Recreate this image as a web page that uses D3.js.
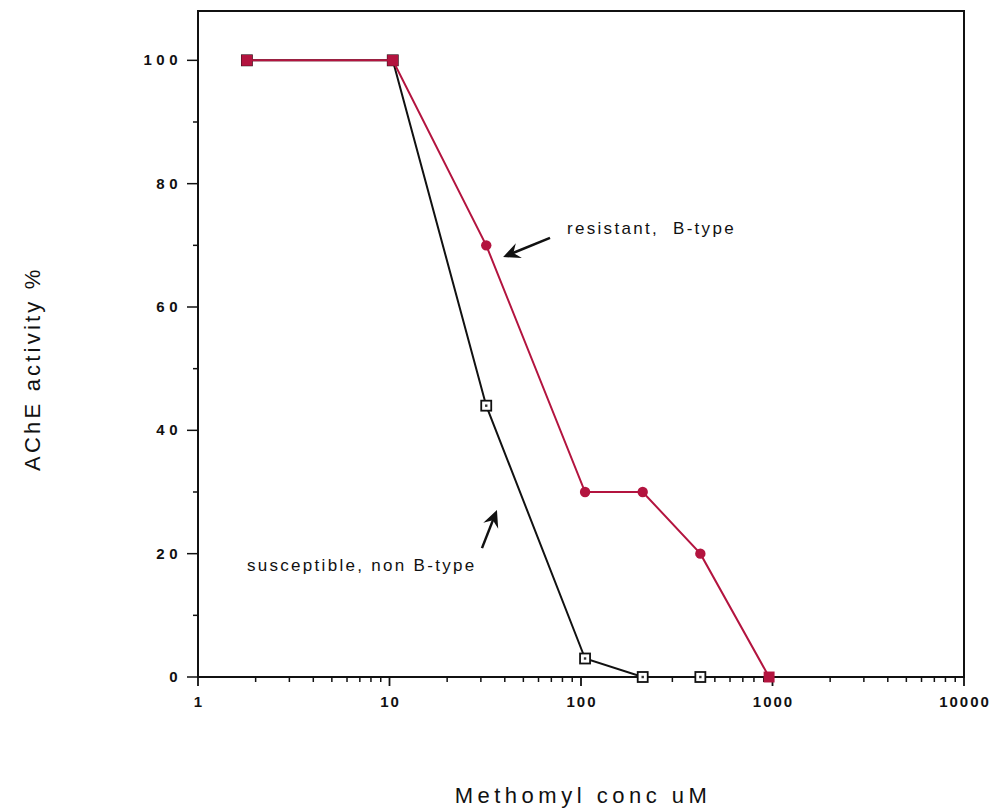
<!DOCTYPE html>
<html>
<head>
<meta charset="utf-8">
<script src="https://cdn.jsdelivr.net/npm/d3@7"></script>
<style>
  body { margin: 0; background: #fff; }
  svg text { font-family: "Liberation Sans", Arial, Helvetica, sans-serif; fill: #111; }
</style>
</head>
<body>
<div class="chart"></div>
<script>
// データ
const concs = [1.8, 10.4, 32, 105, 210, 420, 960];          // Methomyl conc uM
const resistant = [100, 100, 70, 30, 30, 20, 0];            // resistant, B-type
const susceptible = [100, 100, 44, 3, 0, 0, null];          // susceptible, non B-type
const xTicks = [1, 10, 100, 1000, 10000];
const yTicks = [0, 20, 40, 60, 80, 100];
const yMinorTicks = [10, 30, 50, 70, 90];
const labels = [
  { text: "resistant,  B-type", at: [84.5, 71.8], tail: [68.9, 71.2], tip: [39.2, 68.1] },
  { text: "susceptible, non B-type", at: [1.8, 17.2], tail: [30.4, 20.9], tip: [36.4, 27.1] }
];

// サイズ
const W = 994, H = 810;
const margin = { top: 11, right: 30, bottom: 133, left: 198 };
const red = "#b3143f";

const svg = d3.select(".chart").append("svg")
  .attr("width", W).attr("height", H);

const x = d3.scaleLog().domain([1, 10000]).range([margin.left, W - margin.right]);
const y = d3.scaleLinear().domain([0, 108]).range([H - margin.bottom, margin.top]);

// 枠
svg.append("rect")
  .attr("x", x(1)).attr("y", y(108))
  .attr("width", x(10000) - x(1)).attr("height", y(0) - y(108))
  .attr("fill", "none").attr("stroke", "#111").attr("stroke-width", 2);

// x軸 (対数、細かい目盛り)
const minor = [];
for (let d = 1; d < 10000; d *= 10) for (let k = 2; k <= 9; k++) minor.push(d * k);
svg.selectAll(".xminor").data(minor).enter().append("line")
  .attr("x1", d => x(d)).attr("x2", d => x(d))
  .attr("y1", y(0)).attr("y2", y(0) + 5)
  .attr("stroke", "#111").attr("stroke-width", 1.5);
svg.selectAll(".xmajor").data(xTicks).enter().append("line")
  .attr("x1", d => x(d)).attr("x2", d => x(d))
  .attr("y1", y(0)).attr("y2", y(0) + 9)
  .attr("stroke", "#111").attr("stroke-width", 1.8);
svg.selectAll(".xlab").data(xTicks).enter().append("text")
  .attr("x", d => x(d) + 1).attr("y", y(0) + 30)
  .attr("text-anchor", "middle")
  .style("font-size", "15px").style("font-weight", "bold").style("letter-spacing", "2px")
  .text(d => d);

// y軸
svg.selectAll(".ymajor").data(yTicks).enter().append("line")
  .attr("x1", x(1) - 11).attr("x2", x(1))
  .attr("y1", d => y(d)).attr("y2", d => y(d))
  .attr("stroke", "#111").attr("stroke-width", 1.5);
svg.selectAll(".yminor").data(yMinorTicks).enter().append("line")
  .attr("x1", x(1) - 5).attr("x2", x(1))
  .attr("y1", d => y(d)).attr("y2", d => y(d))
  .attr("stroke", "#111").attr("stroke-width", 1.5);
svg.selectAll(".ylab").data(yTicks).enter().append("text")
  .attr("x", x(1) - 16).attr("y", d => y(d) + 5)
  .attr("text-anchor", "end")
  .style("font-size", "15px").style("font-weight", "bold").style("letter-spacing", "4.5px")
  .text(d => d);

// 軸タイトル
svg.append("text")
  .attr("transform", `translate(40,${(y(0) + y(100)) / 2 - 0}) rotate(-90)`)
  .attr("text-anchor", "middle")
  .style("font-size", "22px").style("letter-spacing", "3.2px")
  .text("AChE activity %");
svg.append("text")
  .attr("x", (x(1) + x(10000)) / 2 + 2).attr("y", 803)
  .attr("text-anchor", "middle")
  .style("font-size", "22px").style("letter-spacing", "4.5px")
  .text("Methomyl conc uM");

// 線
const line = d3.line()
  .defined(d => d[1] != null)
  .x(d => x(d[0])).y(d => y(d[1]));
const sData = concs.map((c, i) => [c, susceptible[i]]).filter(d => d[1] != null);
const rData = concs.map((c, i) => [c, resistant[i]]);

svg.append("path").datum(sData).attr("d", line)
  .attr("fill", "none").attr("stroke", "#111").attr("stroke-width", 2);

// susceptible: 白抜きの四角
const sq = 10;
svg.selectAll(".smark").data(sData).enter().append("rect")
  .attr("x", d => x(d[0]) - sq / 2).attr("y", d => y(d[1]) - sq / 2)
  .attr("width", sq).attr("height", sq)
  .attr("fill", "#fff").attr("stroke", "#111").attr("stroke-width", 1.8);
svg.selectAll(".sdot").data(sData).enter().append("rect")
  .attr("x", d => x(d[0]) - 1.2).attr("y", d => y(d[1]) - 1.2)
  .attr("width", 2.4).attr("height", 2.4).attr("fill", "#333");

svg.append("path").datum(rData).attr("d", line)
  .attr("fill", "none").attr("stroke", red).attr("stroke-width", 2);

// resistant: 塗りつぶし (100%と0%は四角、それ以外は丸)
svg.selectAll(".rmark").data(rData).enter().append("path")
  .attr("transform", d => `translate(${x(d[0])},${y(d[1])})`)
  .attr("d", d => (d[1] === 100 || d[1] === 0)
    ? d3.symbol(d3.symbolSquare, 120)()
    : d3.symbol(d3.symbolCircle, 85)())
  .attr("fill", red);

// 注記と矢印
labels.forEach(l => {
  svg.append("text")
    .attr("x", x(l.at[0])).attr("y", y(l.at[1]))
    .style("font-size", "17px").style("letter-spacing", "2.3px")
    .style("white-space", "pre")
    .text(l.text);

  const x0 = x(l.tail[0]), y0 = y(l.tail[1]);
  const x1 = x(l.tip[0]), y1 = y(l.tip[1]);
  const ang = Math.atan2(y1 - y0, x1 - x0);
  const len = 17, wid = 8;
  svg.append("line")
    .attr("x1", x0).attr("y1", y0)
    .attr("x2", x1 - Math.cos(ang) * 8).attr("y2", y1 - Math.sin(ang) * 8)
    .attr("stroke", "#111").attr("stroke-width", 2.5);
  const bx = x1 - Math.cos(ang) * len, by = y1 - Math.sin(ang) * len;
  const nx = -Math.sin(ang), ny = Math.cos(ang);
  const mx = x1 - Math.cos(ang) * len * 0.65, my = y1 - Math.sin(ang) * len * 0.65;
  svg.append("path")
    .attr("d", `M${x1},${y1}L${bx + nx * wid},${by + ny * wid}L${mx},${my}L${bx - nx * wid},${by - ny * wid}Z`)
    .attr("fill", "#111");
});
</script>
</body>
</html>
